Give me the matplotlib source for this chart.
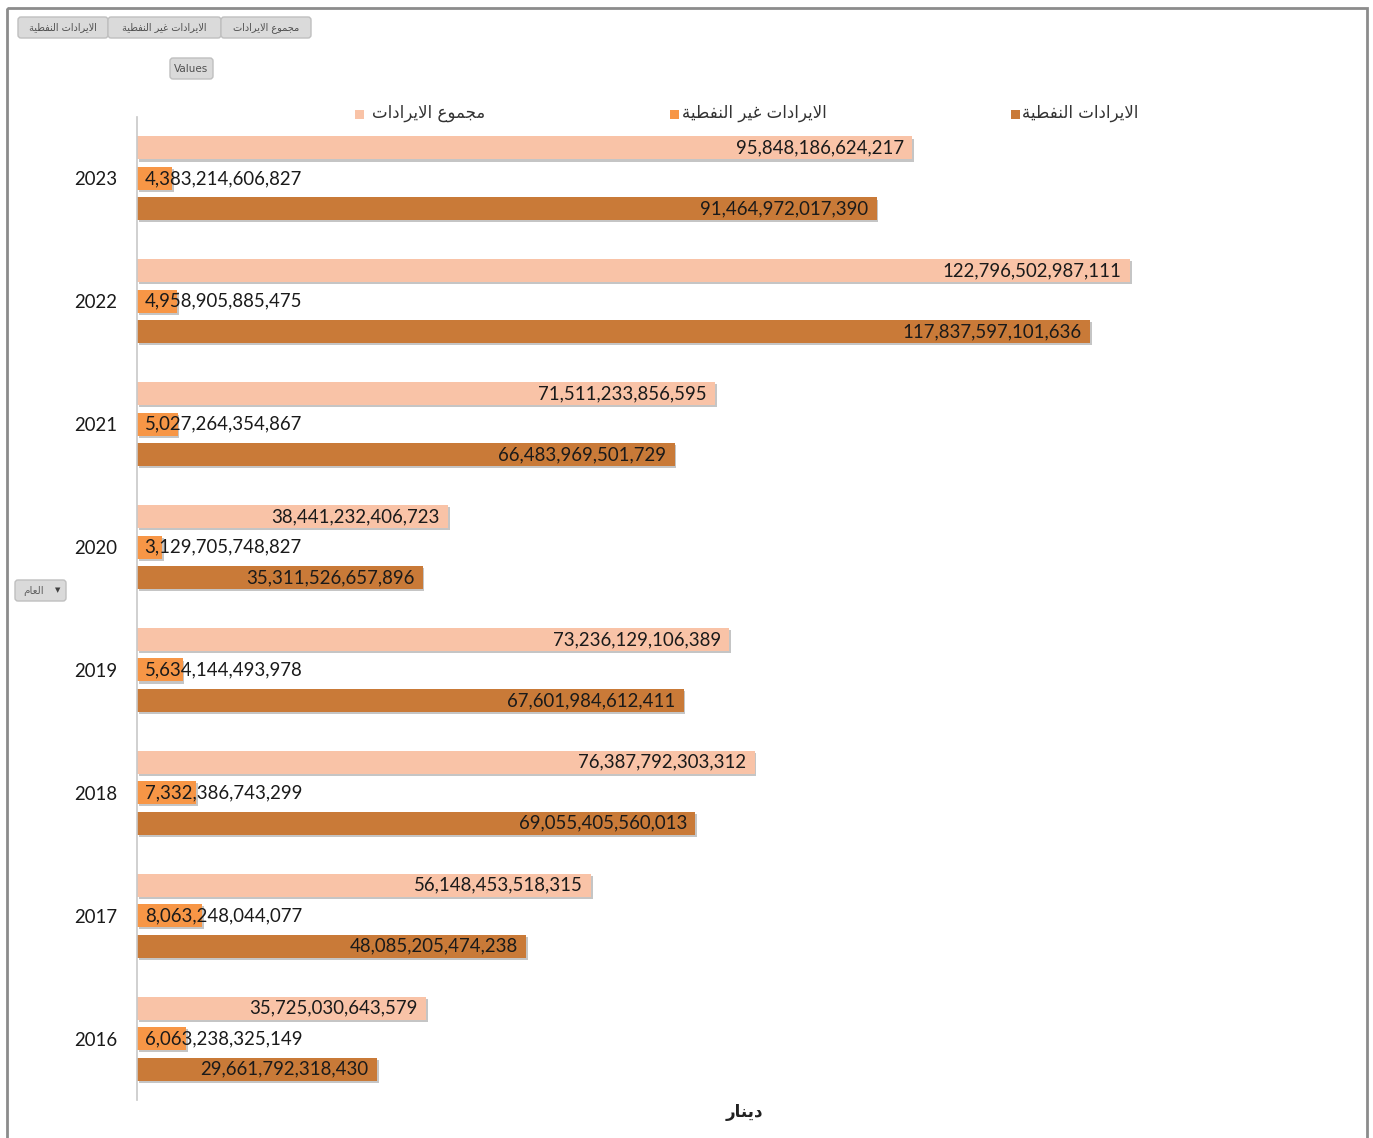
import matplotlib
matplotlib.use("Agg")
import matplotlib.pyplot as plt
import matplotlib.patheffects as pe
from matplotlib.patches import Rectangle, FancyBboxPatch

# revenue per year (dinar)
years = ["2016", "2017", "2018", "2019", "2020", "2021", "2022", "2023"]
total = [35725030643579, 56148453518315, 76387792303312, 73236129106389,
         38441232406723, 71511233856595, 122796502987111, 95848186624217]
non_oil = [6063238325149, 8063248044077, 7332386743299, 5634144493978,
           3129705748827, 5027264354867, 4958905885475, 4383214606827]
oil = [29661792318430, 48085205474238, 69055405560013, 67601984612411,
       35311526657896, 66483969501729, 117837597101636, 91464972017390]

series_names = ["مجموع الايرادات", "الايرادات غير النفطية", "الايرادات النفطية"]
colors = ["#F9C3A7", "#F79646", "#C97A38"]

# --- minimal arabic shaping (matplotlib has no bidi/joining support) ---
FORMS = {  # isolated, final, initial, medial
    "ا": ("\uFE8D", "\uFE8E", None, None),
    "ة": ("\uFE93", "\uFE94", None, None),
    "ت": ("\uFE95", "\uFE96", "\uFE97", "\uFE98"),
    "ج": ("\uFE9D", "\uFE9E", "\uFE9F", "\uFEA0"),
    "د": ("\uFEA9", "\uFEAA", None, None),
    "ر": ("\uFEAD", "\uFEAE", None, None),
    "ط": ("\uFEC1", "\uFEC2", "\uFEC3", "\uFEC4"),
    "ع": ("\uFEC9", "\uFECA", "\uFECB", "\uFECC"),
    "غ": ("\uFECD", "\uFECE", "\uFECF", "\uFED0"),
    "ف": ("\uFED1", "\uFED2", "\uFED3", "\uFED4"),
    "ل": ("\uFEDD", "\uFEDE", "\uFEDF", "\uFEE0"),
    "م": ("\uFEE1", "\uFEE2", "\uFEE3", "\uFEE4"),
    "ن": ("\uFEE5", "\uFEE6", "\uFEE7", "\uFEE8"),
    "و": ("\uFEED", "\uFEEE", None, None),
    "ي": ("\uFEF1", "\uFEF2", "\uFEF3", "\uFEF4"),
    "لا": ("\uFEFB", "\uFEFC", None, None),
}


def ar(text):
    if not any(ch in FORMS for ch in text):
        return text
    toks = []
    i = 0
    while i < len(text):
        if text[i] == "ل" and i + 1 < len(text) and text[i + 1] == "ا":
            toks.append("لا")
            i += 2
        else:
            toks.append(text[i])
            i += 1
    out = []
    for k, t in enumerate(toks):
        if t not in FORMS:
            out.append(t)
            continue
        prev = toks[k - 1] if k > 0 else None
        nxt = toks[k + 1] if k + 1 < len(toks) else None
        join_prev = prev in FORMS and FORMS[prev][2] is not None
        join_next = FORMS[t][2] is not None and nxt in FORMS
        if join_prev and join_next:
            f = 3
        elif join_prev:
            f = 1
        elif join_next:
            f = 2
        else:
            f = 0
        out.append(FORMS[t][f])
    return "".join(out)[::-1]


W, H = 1373, 1138
fig = plt.figure(figsize=(W / 100, H / 100), dpi=100)

# pixel-space overlay for frame, buttons and legend
bg = fig.add_axes([0, 0, 1, 1])
bg.set_xlim(0, W)
bg.set_ylim(H, 0)
bg.axis("off")
bg.add_patch(Rectangle((7, 8), 1360, 1140, fill=False, ec="#8C8C8C", lw=2))


def button(x0, y0, w, h, label, size=7.5, arrow=False):
    bg.add_patch(FancyBboxPatch((x0, y0), w, h,
                                boxstyle="round,pad=0,rounding_size=3",
                                fc="#DADADA", ec="#BFBFBF", lw=1))
    if arrow:
        bg.text(x0 + 8, y0 + h / 2, ar(label), ha="left", va="center",
                fontsize=size, color="#606060", family="DejaVu Sans")
        bg.text(x0 + w - 8, y0 + h / 2, "▼", ha="center", va="center",
                fontsize=5, color="#404040")
    else:
        bg.text(x0 + w / 2, y0 + h / 2, ar(label), ha="center", va="center",
                fontsize=size, color="#505050", family="DejaVu Sans")


button(18, 17, 90, 21, "الايرادات النفطية", 7)
button(108, 17, 113, 21, "الايرادات غير النفطية", 7)
button(221, 17, 90, 21, "مجموع الايرادات", 7)
button(170, 58, 43, 21, "Values", 7.5)
button(15, 580, 51, 21, "العام", 7.5, arrow=True)

# legend, marker on the left of each entry
legend_pos = [(359, 485), (674, 827), (1015, 1138)]
for (sq_x, txt_r), name, c in zip(legend_pos, series_names, colors):
    bg.add_patch(Rectangle((sq_x - 4.5, 109.5), 9, 9, fc=c, ec="none"))
    bg.text(txt_r, 113, ar(name), ha="right", va="center",
            fontsize=12, color="#333333", family="DejaVu Sans")

bg.text(744, 1112, ar("دينار"), ha="center", va="center",
        fontsize=12, fontweight="bold", color="#222222", family="DejaVu Sans")

# main bar chart
ax = fig.add_axes([137 / W, 1 - 1100 / H, (1160 - 137) / W, (1100 - 117) / H])
ax.set_facecolor("none")
xmax = 122796502987111 * (1160 - 137) / (1130 - 137)
ax.set_xlim(0, xmax)
ax.set_ylim(-0.5, 7.5)

pos = list(range(len(years)))
off = 0.248
bh = 0.187
shadow = [pe.SimplePatchShadow(offset=(1.2, -1.5), shadow_rgbFace="#808080", alpha=0.45),
          pe.Normal()]
for vals, dy, c in [(total, off, colors[0]), (non_oil, 0, colors[1]), (oil, -off, colors[2])]:
    bars = ax.barh([p + dy for p in pos], vals, height=bh, color=c, zorder=2)
    for b in bars:
        b.set_path_effects(shadow)

lab_kw = dict(fontsize=13.4, family="Lato", color="#1A1A1A", va="center",
              textcoords="offset points", zorder=4)
for p, t, n, o in zip(pos, total, non_oil, oil):
    ax.annotate(f"{t:,}", (t, p + off), xytext=(-6, 0), ha="right", **lab_kw)
    ax.annotate(f"{n:,}", (0, p), xytext=(5.5, 0), ha="left", **lab_kw)
    ax.annotate(f"{o:,}", (o, p - off), xytext=(-6, 0), ha="right", **lab_kw)

ax.set_yticks(pos)
ax.set_yticklabels(years, fontsize=13.4, family="Lato", color="#1A1A1A")
ax.tick_params(axis="y", length=0, pad=14)
ax.set_xticks([])
for s in ["top", "right", "bottom"]:
    ax.spines[s].set_visible(False)
ax.spines["left"].set_color("#C8C8C8")
ax.spines["left"].set_linewidth(1.2)

fig.savefig("out.png", dpi=100, facecolor="white")
